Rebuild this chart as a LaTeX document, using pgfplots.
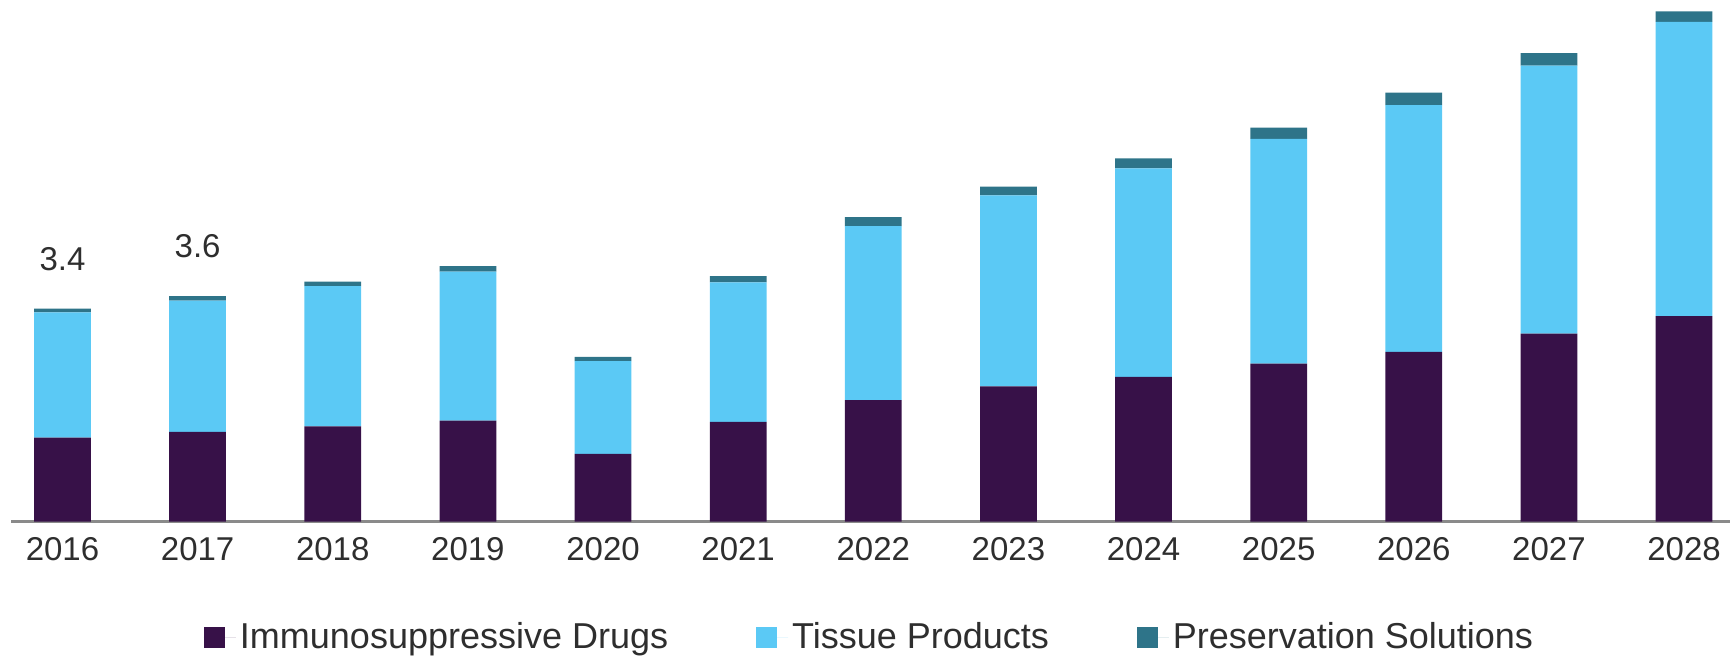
\documentclass[border=0pt]{standalone}
\usepackage{pgfplots}
\pgfplotsset{compat=1.18}
\usepackage{fontspec}
\setmainfont{Liberation Sans}
\definecolor{cImm}{HTML}{371148}
\definecolor{cTis}{HTML}{5BC9F5}
\definecolor{cPre}{HTML}{2E7489}
\definecolor{axgray}{HTML}{8A8A8A}
\definecolor{txt}{HTML}{2E2E2E}
\begin{document}
\begin{tikzpicture}
\begin{axis}[
  at={(0,0)}, anchor=south west,
  scale only axis, width=859.5bp, height=260.75bp,
  ybar stacked, bar width=0.42,
  xmin=-0.381, xmax=12.34, ymin=0, ymax=8.33,
  axis x line=bottom, axis y line=none,
  x axis line style={draw=axgray, line width=1.3bp, -},
  xtick={0,...,12},
  xticklabels={2016,2017,2018,2019,2020,2021,2022,2023,2024,2025,2026,2027,2028},
  major tick length=0pt,
  xticklabel style={font=\fontsize{16.5bp}{19bp}\selectfont, text=txt, inner sep=0pt, anchor=north, yshift=-8bp},
  ytick=\empty,
  legend columns=3,
  legend style={at={(0.5,-0.2215)}, anchor=center, draw=none, fill=none,
    font=\fontsize{18bp}{21bp}\selectfont, text=txt,
    /tikz/every even column/.append style={column sep=42bp}},
  legend image code/.code={\fill[#1] (0bp,-5.25bp) rectangle (10.5bp,5.25bp);
    \path (0bp,0bp) -- (16bp,0bp);},
]
\addplot[fill=cImm, draw=none] coordinates {
  (0,1.34) (1,1.43) (2,1.52) (3,1.61) (4,1.08) (5,1.59) (6,1.94)
  (7,2.16) (8,2.31) (9,2.52) (10,2.71) (11,3.00) (12,3.28)};
\addlegendentry{Immunosuppressive Drugs}
\addplot[fill=cTis, draw=none] coordinates {
  (0,2.00) (1,2.10) (2,2.24) (3,2.38) (4,1.48) (5,2.23) (6,2.78)
  (7,3.05) (8,3.33) (9,3.59) (10,3.94) (11,4.28) (12,4.70)};
\addlegendentry{Tissue Products}
\addplot[fill=cPre, draw=none] coordinates {
  (0,0.06) (1,0.07) (2,0.07) (3,0.09) (4,0.07) (5,0.10) (6,0.14)
  (7,0.14) (8,0.16) (9,0.18) (10,0.20) (11,0.20) (12,0.17)};
\addlegendentry{Preservation Solutions}
\node[font=\fontsize{16.5bp}{19bp}\selectfont, text=txt, yshift=25bp] at (axis cs:0,3.40) {3.4};
\node[font=\fontsize{16.5bp}{19bp}\selectfont, text=txt, yshift=25bp] at (axis cs:1,3.60) {3.6};
\end{axis}
\pgfresetboundingbox
\useasboundingbox (-5.5bp,-68.25bp) rectangle (861bp,260.75bp);
\end{tikzpicture}
\end{document}
